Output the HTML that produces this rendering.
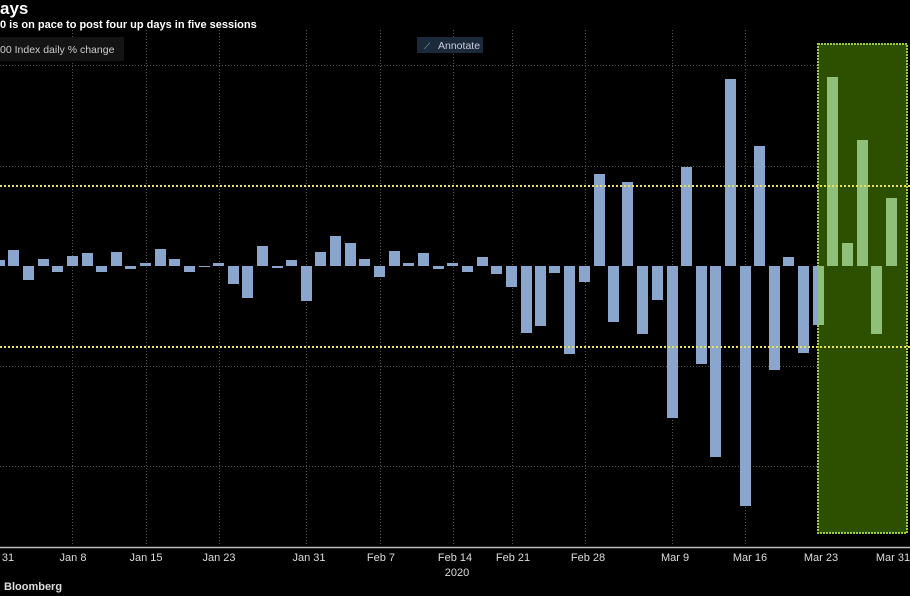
<!DOCTYPE html>
<html><head><meta charset="utf-8"><style>
body{margin:0;background:#000;width:910px;height:596px;overflow:hidden;font-family:"Liberation Sans",sans-serif}
</style></head><body>
<svg id="s" width="910" height="596" xmlns="http://www.w3.org/2000/svg" style="position:absolute;left:0;top:0">
<rect width="910" height="596" fill="#000"/>
<g stroke="#555" stroke-width="1" stroke-dasharray="1,2">
<line x1="0" y1="65.5" x2="910" y2="65.5"/><line x1="0" y1="166.5" x2="910" y2="166.5"/>
<line x1="0" y1="366.5" x2="910" y2="366.5"/><line x1="0" y1="466.5" x2="910" y2="466.5"/>
<line x1="72.5" y1="30" x2="72.5" y2="546"/><line x1="146.5" y1="30" x2="146.5" y2="546"/>
<line x1="219.5" y1="30" x2="219.5" y2="546"/><line x1="306.5" y1="30" x2="306.5" y2="546"/>
<line x1="380.5" y1="30" x2="380.5" y2="546"/><line x1="453.5" y1="30" x2="453.5" y2="546"/>
<line x1="512.5" y1="30" x2="512.5" y2="546"/><line x1="585.5" y1="30" x2="585.5" y2="546"/>
<line x1="672.5" y1="30" x2="672.5" y2="546"/><line x1="745.5" y1="30" x2="745.5" y2="546"/>
</g>
<rect x="818" y="44" width="89" height="489" fill="#2d5000" stroke="#9ccc3a" stroke-width="2" stroke-dasharray="2,1"/>
<g id="bars"></g>
<g stroke="#e8e060" stroke-width="2" stroke-dasharray="2,2">
<line x1="0" y1="186" x2="910" y2="186"/><line x1="0" y1="347" x2="910" y2="347"/>
</g>
<line x1="0" y1="547.5" x2="910" y2="547.5" stroke="#bbb" stroke-width="1.5"/>
<g fill="#ddd" font-size="11" text-anchor="middle" font-family="'Liberation Sans Narrow','Liberation Sans',sans-serif">
<text x="8" y="561">31</text><text x="73" y="561">Jan 8</text><text x="146" y="561">Jan 15</text>
<text x="219" y="561">Jan 23</text><text x="309" y="561">Jan 31</text><text x="381" y="561">Feb 7</text>
<text x="455" y="561">Feb 14</text><text x="513" y="561">Feb 21</text><text x="588" y="561">Feb 28</text>
<text x="675" y="561">Mar 9</text><text x="750" y="561">Mar 16</text><text x="821" y="561">Mar 23</text>
<text x="893" y="561">Mar 31</text><text x="457" y="576">2020</text>
</g>
<text x="4" y="590" fill="#ddd" font-size="11" font-weight="bold">Bloomberg</text>
<text x="0" y="14" fill="#fff" font-size="17" font-weight="bold">ays</text>
<text x="0" y="28" fill="#fff" font-size="11" font-weight="bold">0 is on pace to post four up days in five sessions</text>
<rect x="0" y="37" width="124" height="24" fill="#141414"/>
<text x="0" y="53" fill="#ccc" font-size="10.5">00 Index daily % change</text>
<rect x="417" y="37" width="66" height="16" fill="#1a2a3a"/>
<text x="424" y="49" fill="#8aa" font-size="9">⟋</text>
<text x="438" y="49" fill="#ccd" font-size="10.5">Annotate</text>
</svg>
<script>
var d=[[0,260],[8,250],[23,280],[38,259],[52,272],[67,256],[82,253],[96,272],[111,252],[125,269],[140,263],[155,249],[169,259],[184,272],[199,267],[213,263],[228,284],[242,298],[257,246],[272,268],[286,260],[301,301],[315,252],[330,236],[345,243],[359,259],[374,277],[389,251],[403,263],[418,253],[433,269],[447,263],[462,272],[477,257],[491,274],[506,287],[521,333],[535,326],[549,273],[564,354],[579,282],[594,174],[608,322],[622,182],[637,334],[652,300],[667,418],[681,167],[696,364],[710,457],[725,79],[740,506],[754,146],[769,370],[783,257],[798,353],[813,325],[827,77],[842,243],[857,140],[871,334],[886,198]];
var g=document.getElementById('bars'),h='';
d.forEach(function(b){var x=b[0],y=b[1],w=11,t=Math.min(y,266),hh=Math.max(1,Math.abs(y-266));if(x==0){w=5}
var c=x>=813?'#8fc07a':'#8aa6cc';
if(x==813){h+='<rect x="813" y="266" width="5" height="'+(y-266)+'" fill="#8aa6cc"/>';h+='<rect x="818" y="266" width="6" height="'+(y-266)+'" fill="#8fc07a"/>';return;}
h+='<rect x="'+x+'" y="'+t+'" width="'+w+'" height="'+hh+'" fill="'+c+'"/>';});
g.innerHTML=h;
</script>
</body></html>
